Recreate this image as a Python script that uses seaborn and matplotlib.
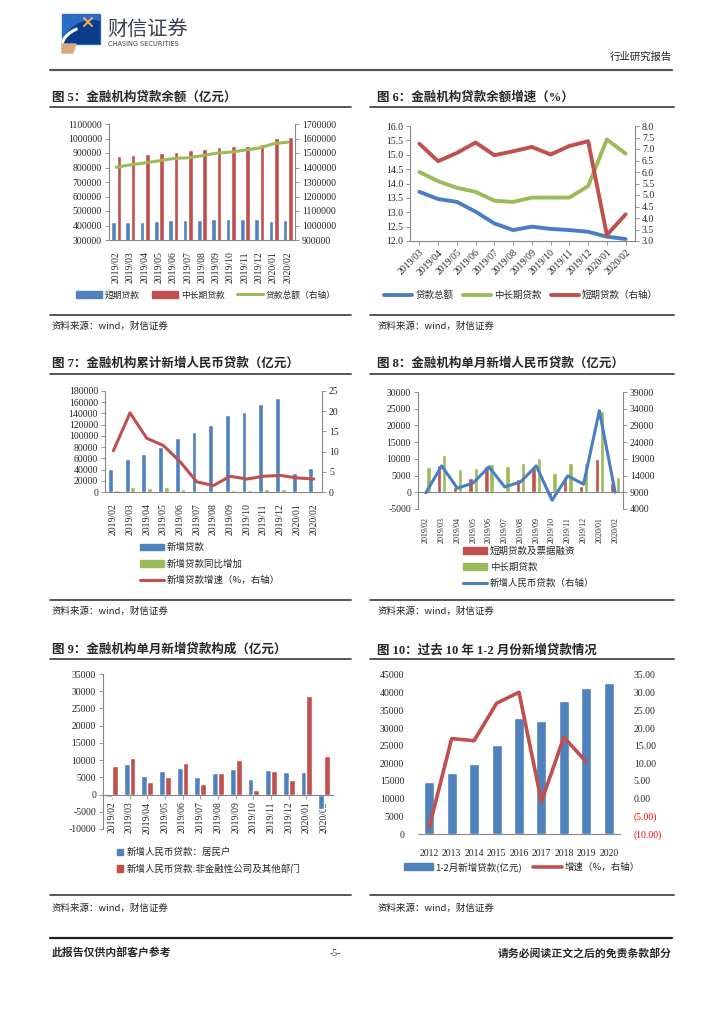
import numpy as np
import pandas as pd
import seaborn as sns
import matplotlib
matplotlib.use('Agg')
from matplotlib import pyplot as plt
from matplotlib.lines import Line2D
from matplotlib.patches import Patch, Rectangle, Ellipse, Polygon, Arc
from matplotlib.font_manager import FontProperties
from matplotlib.ticker import StrMethodFormatter

# ---- data ----
months = ['2019/02', '2019/03', '2019/04', '2019/05', '2019/06', '2019/07', '2019/08',
          '2019/09', '2019/10', '2019/11', '2019/12', '2020/01', '2020/02']
months12 = months[1:]

# fig 5
short5 = [422000, 427000, 427000, 434000, 440000, 440000, 440000, 445000, 445000, 445000, 445000, 434000, 440000]
long5 = [876000, 887000, 894000, 901000, 906000, 920000, 927000, 938000, 945000, 950000, 961000, 1003000, 1007000]
total5 = [1402000, 1418000, 1432000, 1446000, 1462000, 1467000, 1481000, 1499000, 1506000, 1520000, 1534000, 1564000, 1575000]

# fig 6
total6 = [13.71, 13.46, 13.36, 13.02, 12.61, 12.38, 12.50, 12.42, 12.38, 12.32, 12.15, 12.07]
long6 = [14.40, 14.08, 13.85, 13.71, 13.40, 13.36, 13.51, 13.51, 13.51, 13.91, 15.53, 15.04]
short6 = [7.23, 6.47, 6.83, 7.28, 6.73, 6.90, 7.09, 6.76, 7.13, 7.34, 3.26, 4.16]

# fig 7
new7 = [41100, 58100, 68300, 80100, 96700, 107300, 119400, 136600, 143200, 157100, 168100, 33400, 42500]
yoy7 = [4000, 9500, 7000, 9000, 5000, 2000, 1500, 4000, 4000, 5500, 5500, 1000, 800]
growth7 = [10.2, 19.6, 13.3, 11.5, 7.5, 2.5, 1.6, 3.9, 3.2, 3.9, 4.1, 3.5, 3.2]

# fig 8
short8 = [500, 8200, 1500, 4200, 8000, -200, 4000, 7200, -1000, 4400, 2000, 10100, 2700]
long8 = [7500, 11300, 6900, 7200, 8600, 8000, 8800, 10400, 5800, 8800, 8800, 24200, 4500]
new8 = [8858, 16900, 10200, 11800, 16600, 10600, 12100, 16900, 6613, 13900, 11400, 33400, 9057]

# fig 9
house9 = [-600, 8900, 5400, 6700, 7800, 5100, 6400, 7500, 4400, 7000, 6500, 6500, -4100]
corp9 = [8300, 10600, 3600, 5100, 9100, 3000, 6400, 10100, 1200, 6700, 4300, 28500, 11100]

# fig 10
years10 = ['2012', '2013', '2014', '2015', '2016', '2017', '2018', '2019', '2020']
new10 = [14700, 17300, 19900, 25200, 32800, 32100, 37600, 41400, 42700]
growth10 = [-8.1, 17.0, 16.4, 27.0, 30.1, -0.8, 17.4, 10.4]

BLUE = '#4F81BD'
RED = '#C0504D'
GREEN = '#9BBB59'
GRAY = '#868686'
LBLUE = '#4A7EC4'

sns.set_theme(style='white')
plt.rcParams['font.family'] = ['Liberation Serif', 'Noto Sans CJK SC']
plt.rcParams['axes.unicode_minus'] = False

W, H = 724, 1024
fig = plt.figure(figsize=(W / 100, H / 100), dpi=100)


def add_ax(x0, y0, x1, y1):
    return fig.add_axes([x0 / W, 1 - y1 / H, (x1 - x0) / W, (y1 - y0) / H])


def ftext(x, y, s, **kw):
    fig.text(x / W, 1 - y / H, s, **kw)


def hline(x0, x1, y, lw=1.2, color='#3a3a3a'):
    fig.add_artist(Line2D([x0 / W, x1 / W], [1 - y / H, 1 - y / H], lw=lw, color=color))


def cjk(size):
    return FontProperties(family=['Noto Sans CJK SC'], size=size)


def long_df(cats, series, names):
    return pd.DataFrame({'cat': cats * len(series),
                         'val': sum(series, []),
                         'kind': np.repeat(names, len(cats))})


def style_left(ax, spine=True):
    for s in ['top', 'right']:
        ax.spines[s].set_visible(False)
    for s in ['left', 'bottom']:
        ax.spines[s].set_color(GRAY)
        ax.spines[s].set_linewidth(0.8)
    ax.spines['left'].set_visible(spine)
    ax.tick_params(axis='y', left=spine, length=3, width=0.6, color=GRAY, labelsize=7, pad=2)
    ax.tick_params(axis='x', bottom=False, labelsize=7, pad=2)
    ax.set_xlabel('')
    ax.set_ylabel('')


def style_right(ax2, spine=True):
    for s in ['top', 'left', 'bottom']:
        ax2.spines[s].set_visible(False)
    ax2.spines['right'].set_color(GRAY)
    ax2.spines['right'].set_linewidth(0.8)
    ax2.spines['right'].set_visible(spine)
    ax2.tick_params(axis='y', right=spine, length=3, width=0.6, color=GRAY, labelsize=7, pad=2)
    ax2.set_xlabel('')
    ax2.set_ylabel('')
    ax2.grid(False)


# ---- header ----
lg = add_ax(55, 10, 105, 55)
lg.set_xlim(55, 105)
lg.set_ylim(55, 10)
lg.axis('off')
box = Rectangle((62, 14), 38, 30, color='#2b6cc4')
lg.add_patch(box)
el = Ellipse((86, 37), 44, 30, angle=-25, color='#0b3c8c')
lg.add_patch(el)
el.set_clip_path(box)
arc = Arc((84, 40), 46, 26, angle=-20, theta1=120, theta2=260, color='white', lw=2.2)
lg.add_patch(arc)
arc.set_clip_path(box)
lg.plot([84, 92], [18, 26], color='#f2a65a', lw=1.5)
lg.plot([84, 92], [26, 18], color='#f2a65a', lw=1.5)
lg.add_patch(Polygon([(62, 44), (76, 44), (73, 53), (62, 53)], color='#d9ab82'))

ftext(107, 30, '财信证券', fontproperties=FontProperties(family=['Noto Sans CJK SC'], size=14.5),
      color='#3b3f55', va='center', ha='left')
ftext(108, 44, 'CHASING SECURITIES', family='DejaVu Sans', fontsize=4.8, color='#3b3f55',
      va='center', ha='left')
ftext(672, 57, '行业研究报告', fontproperties=cjk(7.5), ha='right', va='center', color='#222222')
hline(50, 672, 70, lw=1.6, color='#555555')

title_kw = dict(fontsize=9, fontweight='bold', va='center', ha='left',
                family=['Liberation Serif', 'Noto Sans CJK SC'])
src_kw = dict(fontproperties=cjk(6.8), va='center', ha='left', color='#222222', style='italic')

# ---- fig 5 ----
ftext(52, 98, '图 5：金融机构贷款余额（亿元）', **title_kw)
hline(50, 351, 107)
ax = add_ax(109, 124, 295, 240)
sns.barplot(data=long_df(months, [short5, long5], ['短期贷款', '中长期贷款']), x='cat', y='val',
            hue='kind', palette=[BLUE, RED], saturation=1, width=0.75, gap=0.15,
            errorbar=None, legend=False, ax=ax)
ax.set_ylim(300000, 1100000)
ax.set_yticks(range(300000, 1100001, 100000))
ax.yaxis.set_major_formatter(StrMethodFormatter('{x:.0f}'))
ax2 = ax.twinx()
sns.lineplot(x=np.arange(13), y=total5, color=GREEN, lw=2.2, ax=ax2)
ax2.set_ylim(900000, 1700000)
ax2.set_yticks(range(900000, 1700001, 100000))
ax2.yaxis.set_major_formatter(StrMethodFormatter('{x:.0f}'))
ax.set_xlim(-0.5, 12.5)
ax.set_xticks(range(13))
ax.set_xticklabels(months, rotation=90)
style_left(ax)
style_right(ax2)
fig.legend([Patch(color=BLUE), Patch(color=RED), Line2D([], [], color=GREEN, lw=2.2)],
           ['短期贷款', '中长期贷款', '贷款总额（右轴）'], loc='center',
           bbox_to_anchor=(206 / W, 1 - 295 / H), ncol=3, frameon=False, prop=cjk(6.3),
           handlelength=3.0, handleheight=0.7, handletextpad=0.3, columnspacing=1.4)
hline(50, 351, 315)
ftext(52, 326, '资料来源：wind，财信证券', **src_kw)

# ---- fig 6 ----
ftext(377, 98, '图 6：金融机构贷款余额增速（%）', **title_kw)
hline(370, 674, 107)
ax = add_ax(410, 126, 635, 241)
sns.lineplot(x=np.arange(12), y=total6, color=LBLUE, lw=2.8, ax=ax)
sns.lineplot(x=np.arange(12), y=long6, color=GREEN, lw=2.8, ax=ax)
ax2 = ax.twinx()
sns.lineplot(x=np.arange(12), y=short6, color=RED, lw=2.8, ax=ax2)
ax.set_ylim(12, 16)
ax.set_yticks(np.arange(12, 16.01, 0.5))
ax.yaxis.set_major_formatter(StrMethodFormatter('{x:.1f}'))
ax2.set_ylim(3, 8)
ax2.set_yticks(np.arange(3, 8.01, 0.5))
ax2.yaxis.set_major_formatter(StrMethodFormatter('{x:.1f}'))
ax.set_xlim(-0.5, 11.5)
ax.set_xticks(range(12))
ax.set_xticklabels(months12, rotation=45, ha='right', rotation_mode='anchor')
style_left(ax)
style_right(ax2)
ax.tick_params(axis='x', bottom=True, length=3, width=0.6, color=GRAY)
fig.legend([Line2D([], [], color=LBLUE, lw=2.8), Line2D([], [], color=GREEN, lw=2.8),
            Line2D([], [], color=RED, lw=2.8)],
           ['贷款总额', '中长期贷款', '短期贷款（右轴）'], loc='center',
           bbox_to_anchor=(521 / W, 1 - 295 / H), ncol=3, frameon=False, prop=cjk(6.8),
           handlelength=3.0, handletextpad=0.3, columnspacing=1.0)
hline(370, 674, 315)
ftext(377, 326, '资料来源：wind，财信证券', **src_kw)

# ---- fig 7 ----
ftext(52, 364, '图 7：金融机构累计新增人民币贷款（亿元）', **title_kw)
hline(50, 351, 374)
ax = add_ax(105, 391, 322, 492)
sns.barplot(data=long_df(months, [new7, yoy7], ['新增贷款', '新增贷款同比增加']), x='cat', y='val',
            hue='kind', palette=[BLUE, GREEN], saturation=1, width=0.68, gap=0.15,
            errorbar=None, legend=False, ax=ax)
ax.set_ylim(0, 180000)
ax.set_yticks(range(0, 180001, 20000))
ax.yaxis.set_major_formatter(StrMethodFormatter('{x:.0f}'))
ax2 = ax.twinx()
sns.lineplot(x=np.arange(13), y=growth7, color=RED, lw=2.2, ax=ax2)
ax2.set_ylim(0, 25)
ax2.set_yticks(range(0, 26, 5))
ax.set_xlim(-0.5, 12.5)
ax.set_xticks(range(13))
ax.set_xticklabels(months, rotation=90)
style_left(ax)
style_right(ax2)
fig.legend([Patch(color=BLUE), Patch(color=GREEN), Line2D([], [], color=RED, lw=2.2)],
           ['新增贷款', '新增贷款同比增加', '新增贷款增速（%，右轴）'], loc='center left',
           bbox_to_anchor=(131 / W, 1 - 564 / H), ncol=1, frameon=False, prop=cjk(6.8),
           handlelength=2.6, handleheight=0.7, handletextpad=0.3, labelspacing=0.75)
hline(50, 351, 600)
ftext(52, 611, '资料来源：wind，财信证券', **src_kw)

# ---- fig 8 ----
ftext(377, 364, '图 8：金融机构单月新增人民币贷款（亿元）', **title_kw)
hline(370, 674, 374)
ax = add_ax(418, 392, 623, 509)
sns.barplot(data=long_df(months, [short8, long8], ['短期贷款及票据融资', '中长期贷款']), x='cat',
            y='val', hue='kind', palette=[RED, GREEN], saturation=1, width=0.66, gap=0.15,
            errorbar=None, legend=False, ax=ax)
ax.set_ylim(-5000, 30000)
ax.set_yticks(range(-5000, 30001, 5000))
ax.yaxis.set_major_formatter(StrMethodFormatter('{x:.0f}'))
ax.axhline(0, color=GRAY, lw=0.8, zorder=1)
ax2 = ax.twinx()
sns.lineplot(x=np.arange(13), y=new8, color=LBLUE, lw=2.2, ax=ax2)
ax2.set_ylim(4000, 39000)
ax2.set_yticks(range(4000, 39001, 5000))
ax2.yaxis.set_major_formatter(StrMethodFormatter('{x:.0f}'))
ax.set_xlim(-0.5, 12.5)
ax.set_xticks(range(13))
ax.set_xticklabels(months, rotation=90)
style_left(ax)
style_right(ax2)
ax.spines['bottom'].set_visible(False)
ax.tick_params(axis='x', pad=0, labelsize=5.8)
fig.legend([Patch(color=RED), Patch(color=GREEN), Line2D([], [], color=LBLUE, lw=2.2)],
           ['短期贷款及票据融资', '中长期贷款', '新增人民币贷款（右轴）'], loc='center left',
           bbox_to_anchor=(454 / W, 1 - 567 / H), ncol=1, frameon=False, prop=cjk(6.8),
           handlelength=2.6, handleheight=0.7, handletextpad=0.3, labelspacing=0.75)
hline(370, 674, 600)
ftext(377, 611, '资料来源：wind，财信证券', **src_kw)

# ---- fig 9 ----
ftext(52, 650, '图 9：金融机构单月新增贷款构成（亿元）', **title_kw)
hline(50, 351, 659)
ax = add_ax(103, 674, 333, 829)
sns.barplot(data=long_df(months, [house9, corp9],
                         ['新增人民币贷款：居民户', '新增人民币贷款:非金融性公司及其他部门']),
            x='cat', y='val', hue='kind', palette=[BLUE, RED], saturation=1, width=0.66, gap=0.0,
            errorbar=None, legend=False, ax=ax)
ax.set_ylim(-10000, 35000)
ax.set_yticks(range(-10000, 35001, 5000))
ax.yaxis.set_major_formatter(StrMethodFormatter('{x:.0f}'))
ax.set_xlim(-0.5, 12.5)
style_left(ax)
ax.spines['bottom'].set_position(('data', 0))
ax.set_xticks(range(13))
ax.set_xticklabels(months, rotation=90)
ax.tick_params(axis='x', bottom=True, length=3, width=0.6, color=GRAY, labelsize=7, pad=2)
fig.legend([Patch(color=BLUE), Patch(color=RED)],
           ['新增人民币贷款：居民户', '新增人民币贷款:非金融性公司及其他部门'], loc='center left',
           bbox_to_anchor=(108 / W, 1 - 861 / H), ncol=1, frameon=False, prop=cjk(6.8),
           handlelength=0.7, handleheight=0.7, handletextpad=0.4, labelspacing=0.75)
hline(50, 351, 895)
ftext(52, 908, '资料来源：wind，财信证券', **src_kw)

# ---- fig 10 ----
ftext(377, 650, '图 10：过去 10 年 1-2 月份新增贷款情况', **title_kw)
hline(370, 674, 659)
ax = add_ax(418, 675, 620, 834)
sns.barplot(x=years10, y=new10, color=BLUE, saturation=1, width=0.45, errorbar=None, ax=ax)
ax.set_ylim(0, 45000)
ax.set_yticks(range(0, 45001, 5000))
ax.yaxis.set_major_formatter(StrMethodFormatter('{x:.0f}'))
ax2 = ax.twinx()
sns.lineplot(x=np.arange(len(growth10)), y=growth10, color=RED, lw=2.6, ax=ax2)
ax2.set_ylim(-10, 35)
r_ticks = list(range(-10, 36, 5))
ax2.set_yticks(r_ticks)
ax2.set_yticklabels([f'{v:.2f}' if v >= 0 else f'({-v:.2f})' for v in r_ticks])
for lbl, v in zip(ax2.get_yticklabels(), r_ticks):
    if v < 0:
        lbl.set_color('#FF0000')
ax.set_xlim(-0.5, 8.5)
style_left(ax, spine=False)
style_right(ax2, spine=False)
ax.tick_params(axis='y', pad=7)
ax2.tick_params(axis='y', pad=7)
ax.tick_params(axis='x', pad=5)
fig.legend([Patch(color=BLUE), Line2D([], [], color=RED, lw=2.6)],
           ['1-2月新增贷款(亿元)', '增速（%，右轴）'], loc='center',
           bbox_to_anchor=(522 / W, 1 - 867 / H), ncol=2, frameon=False, prop=cjk(6.8),
           handlelength=3.0, handleheight=0.7, handletextpad=0.3, columnspacing=1.2)
hline(370, 674, 895)
ftext(377, 908, '资料来源：wind，财信证券', **src_kw)

# ---- footer ----
hline(50, 672, 938, lw=1.6, color='#222222')
foot_kw = dict(fontproperties=FontProperties(family=['Noto Sans CJK SC'], size=7.8, weight='bold'),
               va='center')
ftext(52, 953, '此报告仅供内部客户参考', ha='left', **foot_kw)
ftext(672, 953, '请务必阅读正文之后的免责条款部分', ha='right', **foot_kw)
ftext(335, 953, '-5-', ha='center', va='center', fontsize=7)

fig.savefig('out.png', dpi=100)
